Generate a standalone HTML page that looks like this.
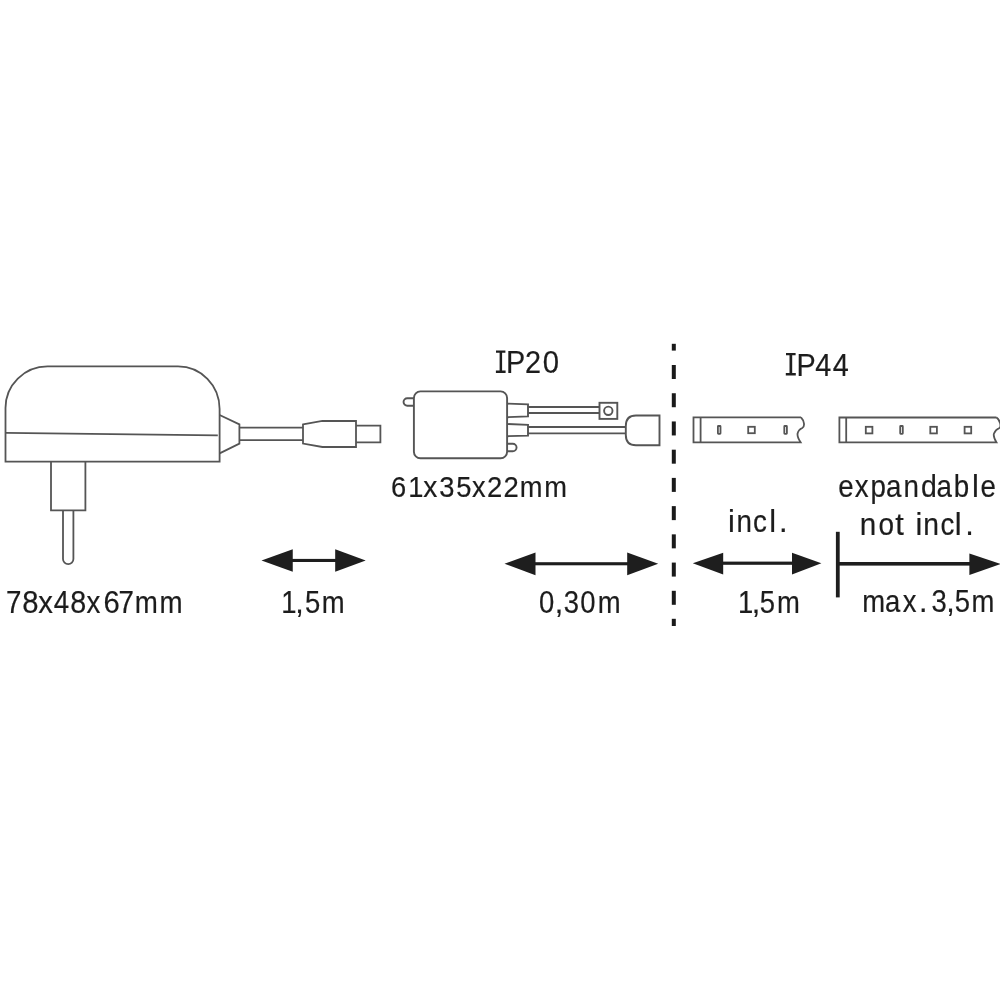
<!DOCTYPE html>
<html><head><meta charset="utf-8"><style>
html,body{margin:0;padding:0;background:#fff;width:1000px;height:1000px;overflow:hidden}
body{filter:grayscale(100%)}
svg{display:block}
text{font-family:"Liberation Sans",sans-serif;fill:#1c1c1c;stroke:#1c1c1c;stroke-width:0.2}
</style></head><body>
<svg width="1000" height="1000" viewBox="0 0 1000 1000">
<rect width="1000" height="1000" fill="#fff"/>
<!-- power adapter -->
<g fill="none" stroke="#555" stroke-width="1.8" stroke-linejoin="miter">
  <path d="M5.5 461.6 V408 A42 41.6 0 0 1 47.5 366.4 H178 A41.6 42.6 0 0 1 219.6 409 V461.6 Z"/>
  <path d="M6 432.8 L217.8 435.3"/>
  <path d="M51 461.6 V510.4 H85.4 V461.6"/>
  <path d="M63 510.4 V559 A5.2 5.2 0 0 0 73.4 559 V510.4"/>
  <path d="M219.6 415 L239.4 424.4 V443.6 L219.6 453.4"/>
  <path d="M239.4 427.6 H303 M239.4 440.2 H303"/>
  <path d="M303 424.4 L322.4 420.8 L356 421 V447 L322.4 447 L303 443.6 Z"/>
  <path d="M356 425.6 H380.4 V442.4 H356"/>
</g>
<!-- controller -->
<g fill="none" stroke="#555" stroke-width="1.9">
  <rect x="413.9" y="391.4" width="93.2" height="66.9" rx="6.5"/>
  <path d="M413.9 398.2 H407.3 A3.75 3.75 0 0 0 407.3 405.7 H413.9"/>
  <path d="M507.1 443.7 H512.8 A3.75 3.75 0 0 1 512.8 451.2 H507.1"/>
  <path d="M507.1 403.6 L528 404.4 V416.4 L507.1 417.2"/>
  <path d="M507.1 424 L528 424.9 V435.6 L507.1 436.2"/>
  <path d="M528 407 H599.5 M528 413 H599.5"/>
  <rect x="599.5" y="402.8" width="17.8" height="16.1"/>
  <circle cx="608.3" cy="410.8" r="4.2"/>
  <path d="M528 427 H625.8 M528 433.4 H625.8"/>
  <path d="M659.5 415.5 H636 Q625.8 415.5 625.8 426 V435 Q625.8 445.3 636 445.3 H659.5 Z"/>
</g>
<!-- dashed divider -->
<g fill="#1a1a1a">
<rect x="671.8" y="343.8" width="4" height="6.8"/>
<rect x="671.8" y="365.00" width="4" height="14"/>
<rect x="671.8" y="393.23" width="4" height="14"/>
<rect x="671.8" y="421.45" width="4" height="14"/>
<rect x="671.8" y="449.68" width="4" height="14"/>
<rect x="671.8" y="477.90" width="4" height="14"/>
<rect x="671.8" y="506.12" width="4" height="14"/>
<rect x="671.8" y="534.35" width="4" height="14"/>
<rect x="671.8" y="562.58" width="4" height="14"/>
<rect x="671.8" y="590.80" width="4" height="14"/>
<rect x="671.8" y="618.8" width="4" height="7.2"/>
</g>
<!-- LED strips -->
<g fill="none" stroke="#555" stroke-width="1.8">
  <path d="M801 417.3 H693.5 V442.3 H800.6 C798.5 439 797 436.5 797.6 433.5 C798.2 430.5 800 429 802.3 428 C805 426.5 804.5 421 801 417.3"/>
  <path d="M700.6 417.3 V442.3"/>
  <rect x="717.9" y="426" width="2.6" height="7.8" rx="0.5"/>
  <rect x="748.2" y="426.8" width="6.6" height="6.4"/>
  <rect x="784.3" y="426" width="2.6" height="7.8" rx="0.5"/>
  <path d="M996.5 417.5 H839.4 V442.4 H996.5 C994.5 439 993 436 994 433.5 C995 431 997 429 999.5 428 C1001.5 426 1000 420 996.5 417.5"/>
  <path d="M846.2 417.5 V442.4"/>
  <rect x="865.8" y="426.8" width="6.6" height="6.6"/>
  <rect x="900.2" y="426" width="2.6" height="7.8" rx="0.5"/>
  <rect x="930.3" y="426.8" width="6.6" height="6.6"/>
  <rect x="964.6" y="426.8" width="6.6" height="6.6"/>
</g>
<!-- arrows -->
<g fill="#1e1e1e" stroke="none">
  <path d="M261.5 560.5 L292.75 549.25 V571.75 Z"/>
  <path d="M365.7 560.5 L335.2 549.25 V571.75 Z"/>
  <rect x="290" y="558.9" width="47" height="3.1"/>

  <path d="M504.5 563.75 L535.5 552.5 V575.25 Z"/>
  <path d="M658.2 563.75 L627.2 552.5 V575.25 Z"/>
  <rect x="533" y="562.2" width="96" height="3.1"/>

  <path d="M692.8 563.2 L723.2 552.8 V574.6 Z"/>
  <path d="M821.4 563.2 L792 552.8 V574.6 Z"/>
  <rect x="720" y="561.6" width="74" height="3.2"/>

  <rect x="835.9" y="531.8" width="3.8" height="65.6"/>
  <rect x="838" y="562" width="133" height="3.6"/>
  <path d="M1001 564 L969.4 553.4 V575 Z"/>
</g>
<!-- text -->
<g fill="#1f1f1f">
<path d="M496 350.4 H505.4 V352.8 H502.1 V370.6 H505.6 V373 H495.9 V370.6 H499.6 V352.8 H496 Z"/>
<path d="M786 352.9 H795.6 V355.3 H792.2 V373.1 H795.8 V375.5 H785.8 V373.1 H789.5 V355.3 H786 Z"/>
</g>
<g>
<text transform="translate(6.03 612.6) scale(0.900 1)" font-size="30.8">7</text>
<text transform="translate(22.23 612.6) scale(0.951 1)" font-size="30.8">8</text>
<text transform="translate(38.17 612.6) scale(0.951 1)" font-size="30.8">x</text>
<text transform="translate(53.63 612.6) scale(0.900 1)" font-size="30.8">4</text>
<text transform="translate(70.25 612.6) scale(0.934 1)" font-size="30.8">8</text>
<text transform="translate(86.56 612.6) scale(0.900 1)" font-size="30.8">x</text>
<text transform="translate(103.51 612.6) scale(0.950 1)" font-size="30.8">6</text>
<text transform="translate(118.53 612.6) scale(0.900 1)" font-size="30.8">7</text>
<text transform="translate(134.70 612.6) scale(0.900 1)" font-size="30.8">m</text>
<text transform="translate(159.45 612.6) scale(0.900 1)" font-size="30.8">m</text>
<text transform="translate(391.07 497.2) scale(0.900 1)" font-size="30.3">6</text>
<text transform="translate(408.29 497.2) scale(0.900 1)" font-size="30.3">1</text>
<text transform="translate(423.18 497.2) scale(0.932 1)" font-size="30.3">x</text>
<text transform="translate(439.25 497.2) scale(0.900 1)" font-size="30.3">3</text>
<text transform="translate(456.19 497.2) scale(0.900 1)" font-size="30.3">5</text>
<text transform="translate(471.93 497.2) scale(0.900 1)" font-size="30.3">x</text>
<text transform="translate(487.12 497.2) scale(0.906 1)" font-size="30.3">2</text>
<text transform="translate(503.62 497.2) scale(0.906 1)" font-size="30.3">2</text>
<text transform="translate(519.64 497.2) scale(0.900 1)" font-size="30.3">m</text>
<text transform="translate(544.14 497.2) scale(0.900 1)" font-size="30.3">m</text>
<text transform="translate(281.24 612.5) scale(0.900 1)" font-size="30.5">1</text>
<text transform="translate(295.26 612.5) scale(1.000 1)" font-size="30.5">,</text>
<text transform="translate(304.89 612.5) scale(0.900 1)" font-size="30.5">5</text>
<text transform="translate(321.81 612.5) scale(0.900 1)" font-size="30.5">m</text>
<text transform="translate(539.12 612.5) scale(0.900 1)" font-size="30.5">0</text>
<text transform="translate(554.76 612.5) scale(1.000 1)" font-size="30.5">,</text>
<text transform="translate(563.70 612.5) scale(0.900 1)" font-size="30.5">3</text>
<text transform="translate(580.37 612.5) scale(0.900 1)" font-size="30.5">0</text>
<text transform="translate(597.81 612.5) scale(0.900 1)" font-size="30.5">m</text>
<text transform="translate(737.99 612.5) scale(0.900 1)" font-size="30.5">1</text>
<text transform="translate(751.76 612.5) scale(1.000 1)" font-size="30.5">,</text>
<text transform="translate(759.64 612.5) scale(0.900 1)" font-size="30.5">5</text>
<text transform="translate(777.06 612.5) scale(0.900 1)" font-size="30.5">m</text>
<text transform="translate(862.31 612.3) scale(0.900 1)" font-size="30.5">m</text>
<text transform="translate(885.03 612.3) scale(0.900 1)" font-size="30.5">a</text>
<text transform="translate(902.63 612.3) scale(0.900 1)" font-size="30.5">x</text>
<text transform="translate(918.96 612.3) scale(1.000 1)" font-size="30.5">.</text>
<text transform="translate(931.55 612.3) scale(0.900 1)" font-size="30.5">3</text>
<text transform="translate(946.36 612.3) scale(1.000 1)" font-size="30.5">,</text>
<text transform="translate(954.79 612.3) scale(0.900 1)" font-size="30.5">5</text>
<text transform="translate(971.56 612.3) scale(0.900 1)" font-size="30.5">m</text>
<text transform="translate(505.97 373.0) scale(0.900 1)" font-size="32.0">P</text>
<text transform="translate(524.99 373.0) scale(0.900 1)" font-size="32.0">2</text>
<text transform="translate(542.86 373.0) scale(0.915 1)" font-size="32.0">0</text>
<text transform="translate(796.47 375.5) scale(0.900 1)" font-size="32.0">P</text>
<text transform="translate(815.18 375.5) scale(0.900 1)" font-size="32.0">4</text>
<text transform="translate(832.83 375.5) scale(0.900 1)" font-size="32.0">4</text>
<text transform="translate(727.99 532.0) scale(1.000 1)" font-size="30.8">i</text>
<text transform="translate(736.52 532.0) scale(0.900 1)" font-size="30.8">n</text>
<text transform="translate(753.10 532.0) scale(0.900 1)" font-size="30.8">c</text>
<text transform="translate(769.37 532.0) scale(1.000 1)" font-size="30.8">l</text>
<text transform="translate(778.97 532.0) scale(1.000 1)" font-size="30.8">.</text>
<text transform="translate(838.32 497.2) scale(0.900 1)" font-size="30.8">e</text>
<text transform="translate(854.66 497.2) scale(0.900 1)" font-size="30.8">x</text>
<text transform="translate(870.38 497.2) scale(0.900 1)" font-size="30.8">p</text>
<text transform="translate(885.90 497.2) scale(0.900 1)" font-size="30.8">a</text>
<text transform="translate(903.47 497.2) scale(0.900 1)" font-size="30.8">n</text>
<text transform="translate(921.00 497.2) scale(0.924 1)" font-size="30.8">d</text>
<text transform="translate(936.45 497.2) scale(0.900 1)" font-size="30.8">a</text>
<text transform="translate(953.73 497.2) scale(0.900 1)" font-size="30.8">b</text>
<text transform="translate(972.07 497.2) scale(1.000 1)" font-size="30.8">l</text>
<text transform="translate(980.47 497.2) scale(0.900 1)" font-size="30.8">e</text>
<text transform="translate(859.63 534.6) scale(0.963 1)" font-size="30.8">n</text>
<text transform="translate(878.43 534.6) scale(0.908 1)" font-size="30.8">o</text>
<text transform="translate(895.30 534.6) scale(1.000 1)" font-size="30.8">t</text>
<text transform="translate(915.39 534.6) scale(1.000 1)" font-size="30.8">i</text>
<text transform="translate(923.32 534.6) scale(0.917 1)" font-size="30.8">n</text>
<text transform="translate(940.55 534.6) scale(0.900 1)" font-size="30.8">c</text>
<text transform="translate(954.77 534.6) scale(1.000 1)" font-size="30.8">l</text>
<text transform="translate(965.32 534.6) scale(1.000 1)" font-size="30.8">.</text>
</g>
</svg>
</body></html>
